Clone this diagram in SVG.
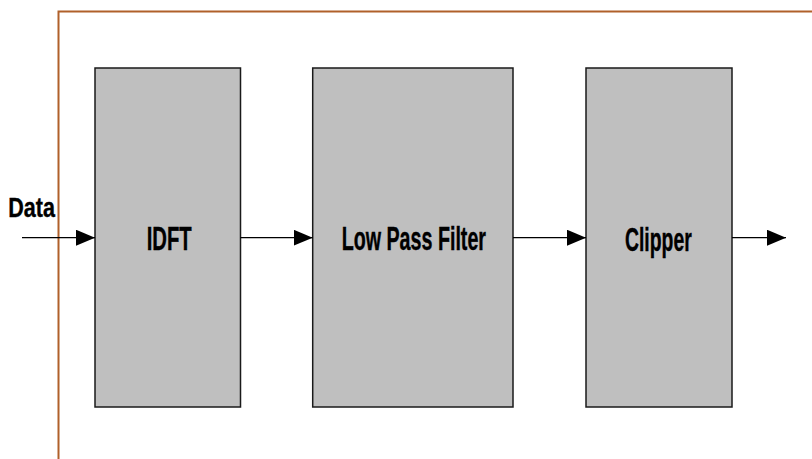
<svg xmlns="http://www.w3.org/2000/svg" width="812" height="459" viewBox="0 0 812 459">
<defs>
<style>
.blk{fill:#bfbfbf;stroke:#1a1a1a;stroke-width:1.5}
.lbl{font-family:"Liberation Sans",Arial,sans-serif;font-weight:bold;fill:#000;stroke:#000;stroke-width:0.4}
.con{stroke:#000;stroke-width:1.3;fill:none}
</style>
<marker id="ah" viewBox="0 0 19 16" refX="19" refY="8" markerWidth="19" markerHeight="16" markerUnits="userSpaceOnUse" orient="auto">
<path d="M0,0 L19,8 L0,16 Z" fill="#000"/>
</marker>
</defs>
<rect width="812" height="459" fill="#fff"/>
<path d="M58.5,459 V11.5 H812" fill="none" stroke="#b0602a" stroke-width="2"/>
<g id="idft">
<rect class="blk" x="95" y="68" width="145.5" height="339"/>
<text class="lbl" x="146.7" y="250" font-size="32.5" textLength="45" lengthAdjust="spacingAndGlyphs">IDFT</text>
</g>
<g id="lpf">
<rect class="blk" x="312.7" y="68" width="200.3" height="339"/>
<text class="lbl" x="341.7" y="250" font-size="32.5" textLength="144.3" lengthAdjust="spacingAndGlyphs">Low Pass Filter</text>
</g>
<g id="clipper">
<rect class="blk" x="586" y="68" width="146" height="339"/>
<text class="lbl" x="625" y="250.5" font-size="32.5" textLength="66.7" lengthAdjust="spacingAndGlyphs">Clipper</text>
</g>
<g id="data">
<text class="lbl" x="8.3" y="216.7" font-size="28.5" textLength="46.7" lengthAdjust="spacingAndGlyphs">Data</text>
</g>
<g id="connectors">
<line class="con" x1="22" y1="237.7" x2="95" y2="237.7" marker-end="url(#ah)"/>
<line class="con" x1="240.5" y1="237.7" x2="312.7" y2="237.7" marker-end="url(#ah)"/>
<line class="con" x1="513" y1="237.7" x2="586" y2="237.7" marker-end="url(#ah)"/>
<line class="con" x1="732" y1="237.7" x2="786" y2="237.7" marker-end="url(#ah)"/>
</g>
</svg>
